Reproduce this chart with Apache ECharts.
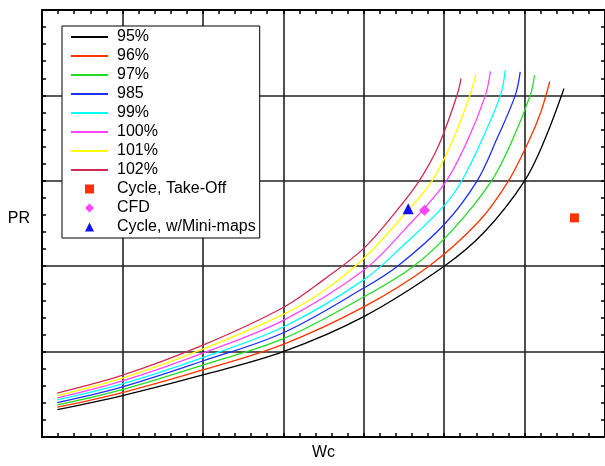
<!DOCTYPE html>
<html><head><meta charset="utf-8">
<script src="https://cdn.jsdelivr.net/npm/echarts@6/dist/echarts.min.js"></script>
<style>html,body{margin:0;padding:0;background:#fff}#c{width:605px;height:466px}</style>
</head><body><div id="c"></div>
<script>
// Efficiency lines (Wc, PR), axis units: x 0..7, y 0..5
const eff95  = [[0.19,0.32],[1,0.485],[2,0.727],[3,1.0],[4,1.41],[5,2.0],[5.5,2.4],[6,3.0],[6.25,3.48],[6.49,4.08]];
const eff96  = [[0.19,0.349],[1,0.52],[2,0.785],[3,1.085],[4,1.523],[4.81,2.0],[5.43,2.523],[5.8,3.0],[6.05,3.46],[6.2,3.8],[6.313,4.163]];
const eff97  = [[0.19,0.376],[1,0.555],[2,0.843],[3,1.151],[4,1.64],[4.62,2.0],[5.1,2.42],[5.59,3.0],[5.85,3.48],[6.07,4.0],[6.124,4.236]];
const eff98  = [[0.19,0.403],[1,0.587],[2,0.89],[3,1.221],[4,1.744],[4.42,2.0],[5,2.488],[5.41,3.0],[5.66,3.5],[5.884,4.0],[5.946,4.276]];
const eff99  = [[0.19,0.434],[1,0.622],[2,0.93],[3,1.288],[4,1.84],[4.5,2.25],[5,2.71],[5.22,3.0],[5.47,3.48],[5.7,4.0],[5.76,4.294]];
const eff100 = [[0.19,0.457],[1,0.657],[2,0.983],[3,1.366],[4,1.953],[4.5,2.42],[5,2.96],[5.28,3.45],[5.513,4.0],[5.575,4.283]];
const eff101 = [[0.19,0.485],[1,0.69],[2,1.029],[3,1.436],[3.5,1.71],[4,2.09],[4.5,2.6],[4.85,3.0],[5.1,3.46],[5.32,4.0],[5.396,4.248]];
const eff102 = [[0.19,0.515],[1,0.724],[2,1.076],[3,1.517],[3.5,1.84],[4,2.209],[4.4,2.64],[4.69,3.0],[4.93,3.41],[5.161,4.003],[5.21,4.198]];

const cycleTakeOff = [[6.62,2.566]];
const cfdPoint     = [[4.756,2.655]];
const cycleMini    = [[4.553,2.674]];

const lineNames  = ['95%','96%','97%','985','99%','100%','101%','102%'];
const lineData   = [eff95,eff96,eff97,eff98,eff99,eff100,eff101,eff102];
const lineColors = ['#000000','#ff3300','#22dd22','#1a2eff','#00ffff','#ff44ff','#ffff00','#d02a55'];
const markerNames = ['Cycle, Take-Off','CFD','Cycle, w/Mini-maps'];

const FONT = 'Liberation Sans, Arial, sans-serif';

const axisCommon = {
  type: 'value',
  axisLine: {show: true, onZero: false, lineStyle: {color: '#000', width: 2}},
  axisTick: {show: true, inside: true, length: 4, lineStyle: {color: '#000', width: 1.5}},
  minorTick: {show: true, splitNumber: 5, length: 4, lineStyle: {color: '#000', width: 1.5}},
  axisLabel: {show: false}
};
const gridLine = {show: true, lineStyle: {color: '#222', width: 1.6}};

const series = lineNames.map((n, i) => ({
  name: n, type: 'line', data: lineData[i], symbol: 'none',
  smooth: 0.35,
  lineStyle: {color: lineColors[i], width: 1.3}, itemStyle: {color: lineColors[i]},
  z: 3
}));
series.push({name: markerNames[0], type: 'scatter', data: cycleTakeOff, symbol: 'rect', symbolSize: 9, itemStyle: {color: '#ff3300', opacity: 1}, z: 4});
series.push({name: markerNames[1], type: 'scatter', data: cfdPoint, symbol: 'diamond', symbolSize: 11, itemStyle: {color: '#ff44ff', opacity: 1}, z: 4});
series.push({name: markerNames[2], type: 'scatter', data: cycleMini, symbol: 'triangle', symbolSize: 11, itemStyle: {color: '#1010ff', opacity: 1}, z: 4});

const legendData = lineNames.map(n => ({name: n, itemStyle: {opacity: 0, color: 'rgba(0,0,0,0)', borderWidth: 0}})).concat([
  {name: markerNames[0], icon: 'path://M0,0L10,0L10,10L0,10Z'},
  {name: markerNames[1], icon: 'path://M5,0L10,5L5,10L0,5Z'},
  {name: markerNames[2], icon: 'path://M5,0L10,10L0,10Z'}
]);

const option = {
  animation: false,
  backgroundColor: '#fff',
  textStyle: {fontFamily: FONT},
  grid: {left: 42, top: 10, right: -2, bottom: 26, containLabel: false},
  xAxis: [
    Object.assign({}, axisCommon, {min: 0, max: 7, interval: 1, position: 'bottom', splitLine: gridLine,
      name: 'Wc', nameLocation: 'middle', nameGap: 8,
      nameTextStyle: {fontSize: 16, color: '#000', fontFamily: FONT, verticalAlign: 'top'}}),
    Object.assign({}, axisCommon, {min: 0, max: 7, interval: 1, position: 'top', splitLine: {show: false}})
  ],
  yAxis: [
    Object.assign({}, axisCommon, {min: 0, max: 5, interval: 1, position: 'left', splitLine: gridLine,
      name: 'PR', nameLocation: 'middle', nameRotate: 0, nameGap: 12,
      nameTextStyle: {fontSize: 16, color: '#000', fontFamily: FONT, verticalAlign: 'bottom', lineHeight: 10}}),
    Object.assign({}, axisCommon, {min: 0, max: 5, interval: 1, position: 'right', splitLine: {show: false}})
  ],
  legend: {
    orient: 'vertical', left: 62, top: 26,
    padding: [3, 4, 3, 8],
    itemWidth: 37, itemHeight: 9, itemGap: 3,
    backgroundColor: '#fff', borderColor: '#000', borderWidth: 1,
    selectedMode: false,
    textStyle: {fontSize: 16, color: '#000', fontFamily: FONT, padding: [0, 0, 0, 4]},
    data: legendData
  },
  series: series
};

const chart = echarts.init(document.getElementById('c'), null, {renderer: 'canvas'});
chart.setOption(option);
</script>
</body></html>
